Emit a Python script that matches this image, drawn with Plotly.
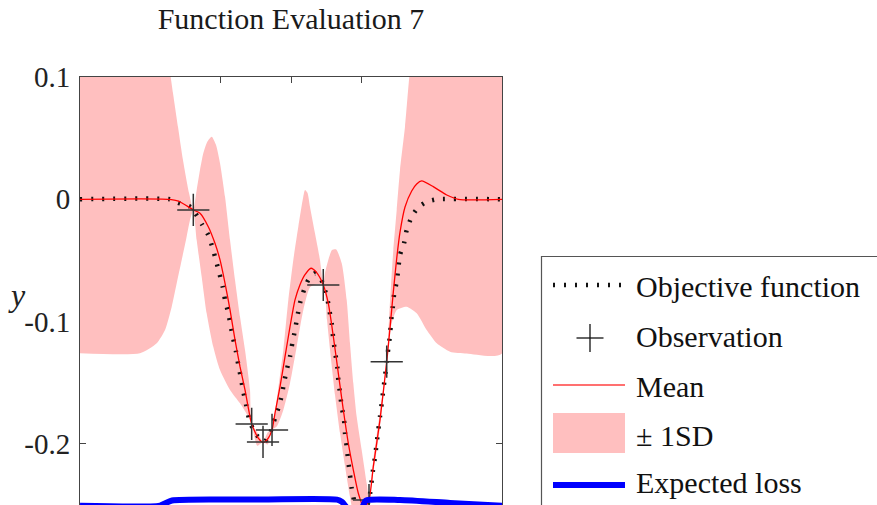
import plotly.graph_objects as go

# ---------------- data ----------------
obj_x = [-3, -1.72, -1.607, -1.436, -1.389, -1.265, -1.176, -1.113, -1.066, -1.019, -0.971, -0.938,
         -0.891, -0.857, -0.820, -0.782, -0.749, -0.711, -0.678, -0.640, -0.593, -0.512, -0.417, -0.370,
         -0.299, -0.227, -0.180, -0.132, -0.099, -0.061, -0.014, 0.019, 0.057, 0.090, 0.128, 0.185,
         0.246, 0.341, 0.412, 0.459, 0.516, 0.545, 0.579, 0.602, 0.626, 0.658, 0.673, 0.697, 0.721,
         0.754, 0.768, 0.792, 0.815, 0.839, 0.863, 0.953, 1.038, 1.109, 1.166, 1.195, 1.218, 1.241,
         1.265, 1.290, 1.312, 1.336, 1.361, 1.384, 1.408, 1.422, 1.446, 1.465, 1.503, 1.526, 1.550,
         1.607, 1.645, 1.716, 1.810, 1.930, 2.076, 3]
obj_y = [0, 0, -0.0028, -0.006, -0.0087, -0.0206, -0.0292, -0.0401, -0.0502, -0.0605, -0.0715, -0.0823,
         -0.0932, -0.1036, -0.1145, -0.1246, -0.1355, -0.1464, -0.1573, -0.1677, -0.1805, -0.1913, -0.1968, -0.198,
         -0.1913, -0.1788, -0.1709, -0.1606, -0.150, -0.1396, -0.1287, -0.1177, -0.1069, -0.096, -0.085, -0.0742,
         -0.066, -0.0605, -0.0633, -0.0701, -0.081, -0.0905, -0.1014, -0.115, -0.1246, -0.1369, -0.1478, -0.1586, -0.1696,
         -0.1805, -0.1913, -0.2023, -0.2146, -0.2254, -0.2363, -0.258, -0.2557, -0.2459, -0.2214, -0.2105, -0.1995, -0.1886,
         -0.1778, -0.1668, -0.1559, -0.1451, -0.1328, -0.1218, -0.111, -0.1001, -0.0891, -0.0782, -0.0674, -0.0564, -0.0455,
         -0.036, -0.0251, -0.0142, -0.0065, -0.002, 0, 0]

mean_x = [-3, -1.75, -1.6, -1.389, -1.294, -1.176, -1.081, -1.009, -0.938, -0.867, -0.796, -0.725, -0.654,
          -0.559, -0.465, -0.394, -0.323, -0.270, -0.227, -0.156, -0.085, -0.014, 0.057, 0.128, 0.199, 0.284,
          0.365, 0.459, 0.530, 0.602, 0.673, 0.744, 0.815, 0.886, 0.957, 1.038, 1.109, 1.170, 1.265, 1.361,
          1.408, 1.455, 1.503, 1.550, 1.621, 1.716, 1.787, 1.858, 2.023, 2.214, 2.379, 3]
mean_y = [0, 0, -0.0015, -0.0087, -0.0114, -0.0224, -0.036, -0.0496, -0.0687, -0.0905, -0.115, -0.1369, -0.1559,
          -0.1837, -0.1954, -0.199, -0.1954, -0.1886, -0.1747, -0.1532, -0.1287, -0.1042, -0.0823, -0.0699, -0.0617, -0.0564,
          -0.060, -0.0701, -0.085, -0.1123, -0.1423, -0.1723, -0.1995, -0.2213, -0.2404, -0.2524, -0.2459, -0.2186, -0.1805, -0.1328,
          -0.1052, -0.0757, -0.0484, -0.0268, -0.0063, 0.0068, 0.0125, 0.015, 0.0103, 0.0035, 0, 0]

upper_x = [-3, -2.0, -1.777, -1.710, -1.678, -1.607, -1.536, -1.450, -1.389, -1.341, -1.294, -1.247, -1.190,
           -1.127, -1.066, -1.009, -0.938, -0.867, -0.796, -0.725, -0.654, -0.583, -0.559, -0.48, -0.398, -0.33,
           -0.270, -0.213, -0.156, -0.109, -0.038, 0.033, 0.104, 0.166, 0.199, 0.235, 0.270, 0.341, 0.412, 0.459,
           0.483, 0.530, 0.583, 0.640, 0.721, 0.792, 0.839, 0.886, 0.934, 1.005, 1.076, 1.109, 1.170, 1.265, 1.361,
           1.393, 1.422, 1.455, 1.503, 1.550, 1.621, 1.682, 1.763, 1.976, 3]
upper_y = [0.25, 0.25, 0.138, 0.1, 0.0869, 0.0594, 0.0322, 0.0052, -0.0087, 0.0076, 0.024, 0.0376, 0.0471,
           0.0512, 0.0444, 0.0294, 0.0021, -0.0333, -0.066, -0.096, -0.1232, -0.1559, -0.1837, -0.1905, -0.1984, -0.1905,
           -0.1886, -0.1682, -0.1437, -0.1232, -0.0823, -0.0496, -0.0224, -0.0006, 0.0076, 0.0052, -0.0061, -0.0278, -0.0496, -0.0701,
           -0.0605, -0.0496, -0.0415, -0.0409, -0.0523, -0.0823, -0.1177, -0.1504, -0.1778, -0.205, -0.2322, -0.2459, -0.2132, -0.1739, -0.1328,
           -0.0987, -0.0701, -0.0415, -0.0087, 0.024, 0.0594, 0.1, 0.14, 0.2, 0.25]

lower_x = [-3, -2.147, -1.909, -1.791, -1.696, -1.625, -1.554, -1.493, -1.436, -1.389, -1.341, -1.270, -1.199,
           -1.105, -1.009, -0.867, -0.725, -0.640, -0.559, -0.48, -0.398, -0.33, -0.270, -0.203, -0.109, -0.014,
           0.081, 0.175, 0.270, 0.365, 0.459, 0.512, 0.555, 0.626, 0.697, 0.768, 0.839, 0.910, 1.010, 1.109,
           1.170, 1.265, 1.361, 1.393, 1.432, 1.503, 1.645, 1.787, 1.929, 2.072, 2.261, 2.498, 3]
lower_y = [-0.1259, -0.1259, -0.1177, -0.1069, -0.0878, -0.0687, -0.0496, -0.0333, -0.0169, -0.0087, -0.0333, -0.0633, -0.0932,
           -0.1205, -0.1396, -0.1559, -0.1668, -0.1745, -0.1837, -0.2015, -0.1984, -0.2005, -0.1886, -0.1859, -0.1723, -0.1505,
           -0.1205, -0.0905, -0.072, -0.0693, -0.0701, -0.0987, -0.1232, -0.16, -0.1911, -0.2181, -0.2434, -0.2622, -0.2663, -0.2459,
           -0.2238, -0.187, -0.1328, -0.115, -0.1014, -0.0905, -0.0878, -0.0932, -0.1069, -0.1177, -0.1246, -0.1261, -0.1261]

obs_x = [-1.389, -0.559, -0.398, -0.270, 0.459, 1.109, 1.361]
obs_y = [-0.0087, -0.1837, -0.1984, -0.1886, -0.0701, -0.2459, -0.1328]

loss_x = [-3, -1.863, -1.692, -0.583, 0.654, 0.725, 0.796, 0.910, 1.010, 1.066, 1.550, 2.261, 3]
loss_y = [-0.2507, -0.2505, -0.2463, -0.2456, -0.2456, -0.2475, -0.2524, -0.258, -0.2524, -0.2463, -0.2459, -0.2483, -0.2507]

y_ticks = [0.1, 0, -0.1, -0.2]
y_tick_text = ["0.1", "0", "-0.1", "-0.2"]
x_ticks = [-2, -1, 0, 1, 2]

title_text = "Function Evaluation 7"
legend_labels = ["Objective function", "Observation", "Mean", "\u00b1 1SD", "Expected loss"]

# ---------------- styling ----------------
W, H = 877, 505
ML, MR, MT, MB = 80, 375, 77, 0
PW, PH = W - ML - MR, H - MT - MB
FONT = "Liberation Serif, Times New Roman, DejaVu Serif, serif"
PINK = "#ffbfbf"
AXC = "#444444"


def px(p):
    return (p - ML) / PW


def py(p):
    return (H - MB - p) / PH


fig = go.Figure()

# +/- 1SD band (closed polygon: upper left->right, lower right->left)
fig.add_trace(go.Scatter(
    x=upper_x + lower_x[::-1], y=upper_y + lower_y[::-1],
    fill="toself", fillcolor=PINK, mode="lines",
    line=dict(width=0, color=PINK, shape="spline", smoothing=0.6),
    name=legend_labels[3], showlegend=False, hoverinfo="skip"))

# Objective function (dotted)
fig.add_trace(go.Scatter(
    x=obj_x, y=obj_y, mode="lines", name=legend_labels[0], showlegend=False,
    line=dict(color="#111111", width=4.5, dash="2px,9px", shape="spline", smoothing=0.5)))

# Mean
fig.add_trace(go.Scatter(
    x=mean_x, y=mean_y, mode="lines", name=legend_labels[2], showlegend=False,
    line=dict(color="#ff0000", width=1.3, shape="spline", smoothing=0.6)))

# Observations
fig.add_trace(go.Scatter(
    x=obs_x, y=obs_y, mode="markers", name=legend_labels[1], showlegend=False,
    marker=dict(symbol="cross-thin", size=23, color="#333333",
                line=dict(width=1.5, color="#333333"))))

# Expected loss
fig.add_trace(go.Scatter(
    x=loss_x, y=loss_y, mode="lines", name=legend_labels[4], showlegend=False,
    line=dict(color="#0000ff", width=6, shape="spline", smoothing=0.6)))

# ---------------- manual legend ----------------
shapes = []
annotations = []
shapes.append(dict(type="rect", xref="paper", yref="paper",
                   x0=px(541.5), x1=px(882), y0=py(256.5), y1=py(512),
                   line=dict(color="#555555", width=1.2), fillcolor="white", layer="above"))
sx0, sx1 = px(553), px(625)
# objective sample
shapes.append(dict(type="line", xref="paper", yref="paper", x0=sx0, x1=px(621), y0=py(285), y1=py(285),
                   line=dict(color="#111111", width=4.5, dash="2px,9px")))
# observation sample (cross)
shapes.append(dict(type="line", xref="paper", yref="paper", x0=px(576.5), x1=px(603.5), y0=py(338), y1=py(338),
                   line=dict(color="#111111", width=1.3)))
shapes.append(dict(type="line", xref="paper", yref="paper", x0=px(590), x1=px(590), y0=py(324), y1=py(352),
                   line=dict(color="#111111", width=1.3)))
# mean sample
shapes.append(dict(type="line", xref="paper", yref="paper", x0=sx0, x1=sx1, y0=py(385), y1=py(385),
                   line=dict(color="#ff4040", width=1.5)))
# band sample
shapes.append(dict(type="rect", xref="paper", yref="paper", x0=sx0, x1=sx1, y0=py(453), y1=py(413),
                   line=dict(width=0), fillcolor=PINK))
# loss sample
shapes.append(dict(type="line", xref="paper", yref="paper", x0=sx0, x1=sx1, y0=py(485), y1=py(485),
                   line=dict(color="#0000ff", width=6)))

for label, cy in zip(legend_labels, [286, 336.5, 386.5, 435, 482]):
    annotations.append(dict(text=label, xref="paper", yref="paper", x=px(634), y=py(cy),
                            xanchor="left", yanchor="middle", showarrow=False,
                            font=dict(family=FONT, size=30, color="#111111")))

# y-axis label
annotations.append(dict(text="<i>y</i>", xref="paper", yref="paper", x=px(16.5), y=py(295),
                        xanchor="center", yanchor="middle", showarrow=False,
                        font=dict(family=FONT, size=32, color="#222222")))

fig.update_layout(
    width=W, height=H,
    margin=dict(l=ML, r=MR, t=MT, b=MB, pad=0),
    paper_bgcolor="white", plot_bgcolor="white",
    showlegend=False,
    font=dict(family=FONT),
    title=dict(text=title_text, x=0.5, xref="paper", xanchor="center",
               y=1 - 18 / H, yref="container", yanchor="middle",
               font=dict(family=FONT, size=30, color="#1a1a1a")),
    xaxis=dict(range=[-3, 3], side="top", showline=True, mirror=True, linecolor=AXC, linewidth=1,
               ticks="inside", ticklen=6, tickcolor=AXC, tickvals=x_ticks, showticklabels=False,
               showgrid=False, zeroline=False, layer="below traces", fixedrange=True),
    yaxis=dict(range=[-0.25, 0.1], showline=True, mirror="ticks", linecolor=AXC, linewidth=1,
               ticks="inside", ticklen=6, tickcolor=AXC, tickvals=y_ticks, ticktext=y_tick_text,
               ticklabelstandoff=3,
               tickfont=dict(family=FONT, size=29, color="#222222"),
               showgrid=False, zeroline=False, layer="below traces", fixedrange=True),
    shapes=shapes, annotations=annotations,
)

fig.write_html("out.html", config={"displayModeBar": False},
               post_script="document.body.style.margin='0';document.body.style.overflow='hidden';")
